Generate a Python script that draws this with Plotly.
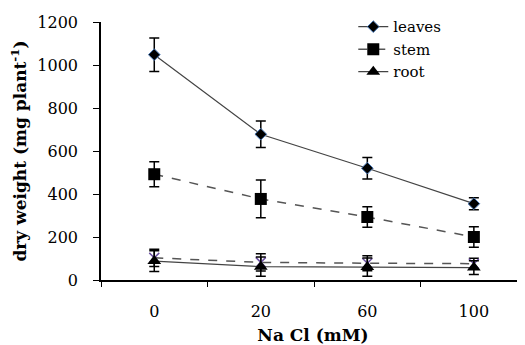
import plotly.graph_objects as go

categories = ["0", "20", "60", "100"]
leaves = [1048, 678, 520, 355]
leaves_err = [78, 62, 50, 28]
stem = [492, 377, 293, 200]
stem_err = [58, 88, 48, 48]
root = [88, 62, 60, 58]
root_err = [48, 45, 42, 32]
other = [103, 82, 78, 76]
other_err = [40, 40, 35, 25]

FONT = "DejaVu Serif"

fig = go.Figure()

fig.add_trace(go.Scatter(
    x=categories, y=other, name="other", showlegend=False, mode="lines+markers",
    line=dict(color="#555555", width=1.5, dash="dash"),
    marker=dict(symbol="x-thin", size=10, line=dict(color="#6a4fa0", width=1.5)),
    error_y=dict(type="data", array=other_err, color="black", thickness=1.5, width=5),
))
fig.add_trace(go.Scatter(
    x=categories, y=root, name="root", mode="lines+markers",
    line=dict(color="#444444", width=1.2),
    marker=dict(symbol="triangle-up", size=12, color="black"),
    error_y=dict(type="data", array=root_err, color="black", thickness=1.5, width=5),
))
fig.add_trace(go.Scatter(
    x=categories, y=stem, name="stem", mode="lines+markers",
    line=dict(color="#555555", width=1.5, dash="dash"),
    marker=dict(symbol="square", size=12, color="black"),
    error_y=dict(type="data", array=stem_err, color="black", thickness=1.5, width=5),
))
fig.add_trace(go.Scatter(
    x=categories, y=leaves, name="leaves", mode="lines+markers",
    line=dict(color="#444444", width=1.2),
    marker=dict(symbol="diamond", size=9, color="black", line=dict(color="#4a7ab8", width=1)),
    error_y=dict(type="data", array=leaves_err, color="black", thickness=1.5, width=5),
))

fig.update_layout(
    width=517, height=337,
    margin=dict(l=93, r=0, t=14, b=65, autoexpand=False),
    plot_bgcolor="white", paper_bgcolor="white",
    font=dict(family=FONT, color="black", size=16),
    legend=dict(x=0.595, y=1.045, xanchor="left", yanchor="top",
                traceorder="reversed", bgcolor="rgba(0,0,0,0)",
                font=dict(family=FONT, size=15),
                tracegroupgap=0),
    xaxis=dict(
        type="category", range=[-0.5, 3.48], automargin=False,
        showline=True, linecolor="black", linewidth=1.5,
        ticks="outside", tickson="boundaries", ticklen=5, tickcolor="black",
        showgrid=False, zeroline=False,
        tickfont=dict(family=FONT, size=16), ticklabelstandoff=16,
        title=dict(text="<b>Na Cl (mM)</b>", font=dict(family=FONT, size=17), standoff=10),
    ),
    yaxis=dict(
        range=[0, 1200], tickvals=[0, 200, 400, 600, 800, 1000, 1200], automargin=False,
        showline=True, linecolor="black", linewidth=1.5,
        ticks="outside", ticklen=6, tickcolor="black",
        showgrid=False, zeroline=False,
        tickfont=dict(family=FONT, size=16), ticklabelstandoff=12,
        title=dict(text="<b>dry weight (mg plant<sup>-1</sup>)</b>",
                   font=dict(family=FONT, size=17), standoff=6),
    ),
)

fig.write_html("out.html")
